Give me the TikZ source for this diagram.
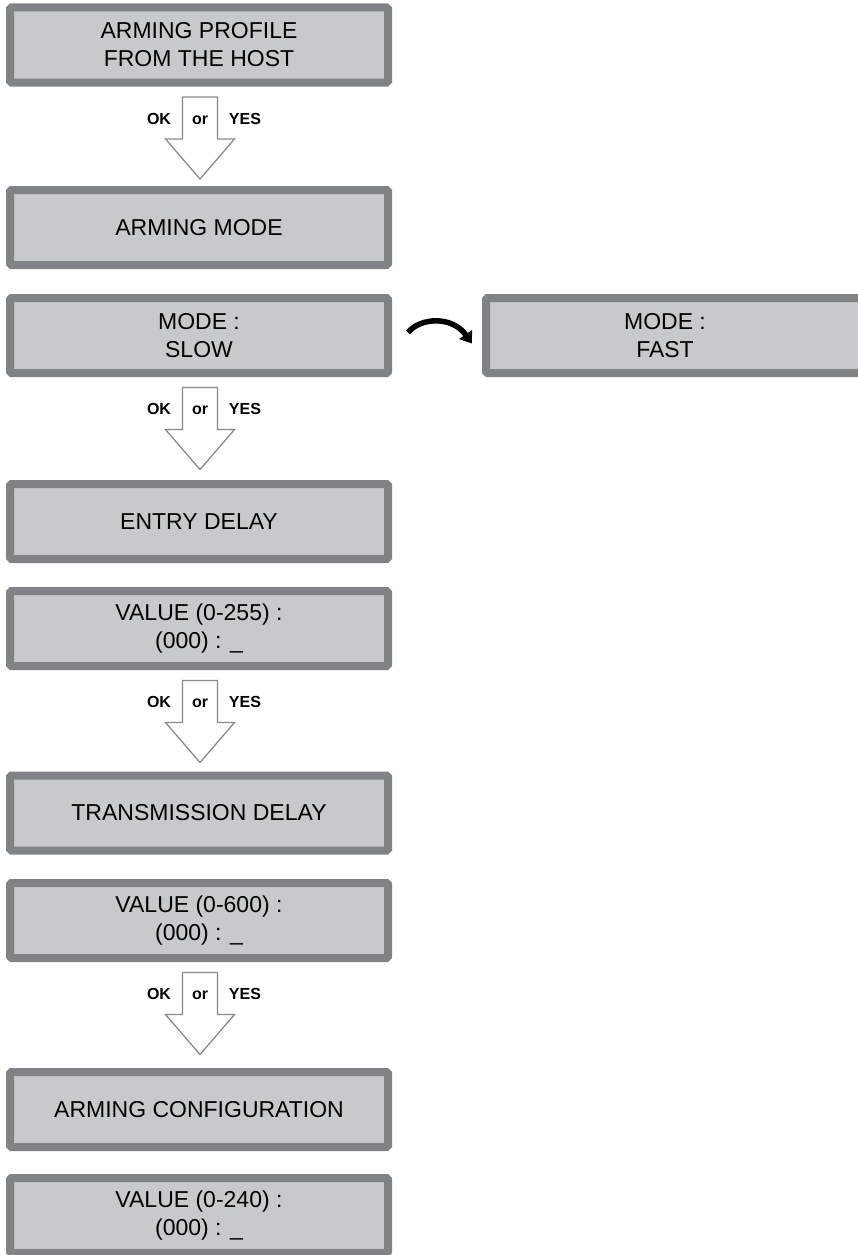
\documentclass[tikz,border=0pt]{standalone}
\usepackage{fontspec}
\setmainfont{Liberation Sans}
\usetikzlibrary{calc,arrows.meta}
\definecolor{boxfill}{HTML}{C8C9CB}
\definecolor{boxline}{HTML}{808285}
\definecolor{arrline}{HTML}{8A8A8A}
\tikzset{
  screen/.style={draw=boxline, fill=boxfill, line width=8pt, rounded corners=1.5pt,
    minimum width=378pt, minimum height=75pt, align=center, inner sep=0pt,
    font=\fontsize{23}{28}\selectfont},
  screentext/.style={align=center, inner sep=0pt, font=\fontsize{23}{28}\selectfont},
  blockarrow/.style={draw=arrline, fill=white, line width=1.3pt, line join=miter},
  keylabel/.style={font=\fontsize{16}{19}\selectfont\bfseries, inner sep=0pt, anchor=base},
  swaparrow/.style={line width=5.5pt, -{Triangle[length=11pt,width=15pt]}}
}
\newcommand{\okarrow}[2]{%
  \coordinate (#2) at ($(#1.south)+(1,10.5)$);
  \draw[blockarrow] ($(#2)+(-17.5,0)$) -- ($(#2)+(17.5,0)$) -- ($(#2)+(17.5,42)$)
    -- ($(#2)+(34.5,42)$) -- ($(#2)+(0,82)$) -- ($(#2)+(-34.5,42)$)
    -- ($(#2)+(-17.5,42)$) -- cycle;
  \node[keylabel] (#2-ok) at ($(#2)+(-41,27)$) {OK};
  \node[keylabel] (#2-or) at ($(#2)+(0,27)$) {or};
  \node[keylabel] (#2-yes) at ($(#2)+(45,27)$) {YES};
}
\begin{document}
\begin{tikzpicture}[x=1pt,y=-1pt]
\useasboundingbox (0,0) rectangle (857,1255);
\node[screen] (b1) at (199,45) {ARMING PROFILE\\FROM THE HOST};
\node[screen] (b2) at (199,227.5) {ARMING MODE};
\node[screen] (b3) at (199,335.5) {MODE :\\SLOW};
\node[screen, minimum width=386pt] (fast) at (679,335.5) {};
\node[screentext] (fasttext) at (665,335.5) {MODE :\\FAST};
\node[screen] (b4) at (199,521.5) {ENTRY DELAY};
\node[screen] (b5) at (199,628.5) {VALUE (0-255) :\\(000) : \_};
\node[screen] (b6) at (199,813) {TRANSMISSION DELAY};
\node[screen] (b7) at (199,920.5) {VALUE (0-600) :\\(000) : \_};
\node[screen] (b8) at (199,1109.5) {ARMING CONFIGURATION};
\node[screen] (b9) at (199,1215.5) {VALUE (0-240) :\\(000) : \_};

\okarrow{b1}{a1}
\okarrow{b3}{a2}
\okarrow{b5}{a3}
\okarrow{b7}{a4}

\coordinate (sw1) at ($(b3.east)+(16,-3)$);
\coordinate (sw2) at ($(fast.west)+(-10,8)$);
\draw[swaparrow] (sw1) .. controls ($(sw1)+(12,-15)$) and ($(sw1)+(44,-17)$) .. (sw2);
\end{tikzpicture}
\end{document}
